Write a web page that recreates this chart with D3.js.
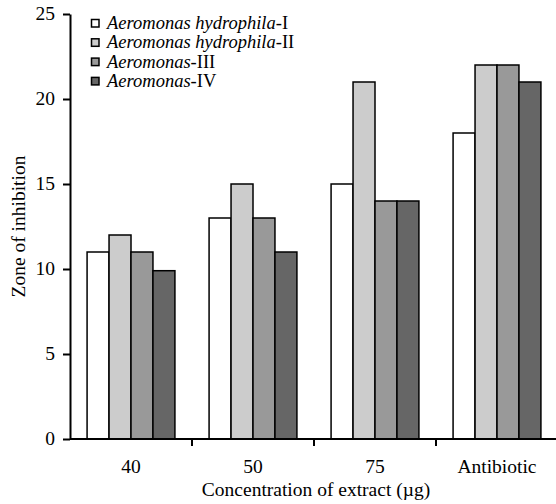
<!DOCTYPE html>
<html lang="en">
<head>
<meta charset="UTF-8">
<title>Zone of inhibition</title>
<style>
  body { margin: 0; background: #fff; }
  text { font-family: "Liberation Serif", "Times New Roman", serif; fill: #000; }
</style>
<script src="https://cdn.jsdelivr.net/npm/d3@7"></script>
</head>
<body>
<script>
// data
var categories = ['40', '50', '75', 'Antibiotic'];
var seriesNames = ['Aeromonas hydrophila-I', 'Aeromonas hydrophila-II', 'Aeromonas-III', 'Aeromonas-IV'];
var seriesItalic = ['Aeromonas hydrophila', 'Aeromonas hydrophila', 'Aeromonas', 'Aeromonas'];
var seriesSuffix = ['-I', '-II', '-III', '-IV'];
var ahI   = [11, 13, 15, 18];
var ahII  = [12, 15, 21, 22];
var aIII  = [11, 13, 14, 22];
var aIV   = [9.9, 11, 14, 21];
var yTicks = [0, 5, 10, 15, 20, 25];
var colors = ['#ffffff', '#cccccc', '#999999', '#666666'];

var values = [ahI, ahII, aIII, aIV];
var width = 556, height = 504;
var margin = {top: 14, right: 0, bottom: 65, left: 70};
var fs = '19.5px';

var svg = d3.select('body').append('svg')
  .attr('width', width)
  .attr('height', height);

var x = d3.scaleBand()
  .domain(categories)
  .range([margin.left, width - margin.right + 2])
  .paddingInner(0.28)
  .paddingOuter(0.14);

var xInner = d3.scaleBand()
  .domain(d3.range(seriesNames.length))
  .range([0, x.bandwidth()]);

var y = d3.scaleLinear()
  .domain([0, 25])
  .range([height - margin.bottom, margin.top]);

// bars
var groups = svg.selectAll('g.grp')
  .data(categories)
  .enter()
  .append('g')
  .attr('class', 'grp')
  .attr('transform', function(d) { return 'translate(' + x(d) + ',0)'; });

groups.selectAll('rect')
  .data(function(d, ci) {
    return values.map(function(s, si) { return {si: si, v: s[ci]}; });
  })
  .enter()
  .append('rect')
  .attr('x', function(d) { return xInner(d.si); })
  .attr('y', function(d) { return y(d.v); })
  .attr('width', xInner.bandwidth())
  .attr('height', function(d) { return y(0) - y(d.v); })
  .attr('fill', function(d) { return colors[d.si]; })
  .attr('stroke', '#000')
  .attr('stroke-width', 1.5);

// y axis
var yAxis = svg.append('g')
  .attr('transform', 'translate(' + margin.left + ',0)')
  .call(d3.axisLeft(y).tickValues(yTicks).tickSize(7).tickPadding(8).tickSizeOuter(0));
yAxis.select('.domain').attr('stroke-width', 2);
yAxis.selectAll('.tick line').attr('stroke-width', 2);
yAxis.selectAll('text')
  .style('font-size', fs)
  .style('font-family', '"Liberation Serif", serif')
  .attr('dy', '0.3em');

// x axis: ticks between categories
var xAxis = svg.append('g')
  .attr('transform', 'translate(0,' + y(0) + ')');
xAxis.append('line')
  .attr('x1', margin.left).attr('x2', width)
  .attr('stroke', '#000').attr('stroke-width', 2);
var step = x.step();
xAxis.selectAll('line.sep')
  .data(categories.slice(1))
  .enter()
  .append('line')
  .attr('class', 'sep')
  .attr('x1', function(d) { return x(d) - step * x.paddingInner() / 2; })
  .attr('x2', function(d) { return x(d) - step * x.paddingInner() / 2; })
  .attr('y1', 0).attr('y2', 7)
  .attr('stroke', '#000').attr('stroke-width', 2);
xAxis.selectAll('text')
  .data(categories)
  .enter()
  .append('text')
  .attr('x', function(d) { return x(d) + x.bandwidth() / 2; })
  .attr('y', 34)
  .attr('text-anchor', 'middle')
  .style('font-size', fs)
  .text(function(d) { return d; });

// axis titles
svg.append('text')
  .attr('x', 316).attr('y', 496)
  .attr('text-anchor', 'middle')
  .style('font-size', fs)
  .text('Concentration of extract (\u00b5g)');

svg.append('text')
  .attr('transform', 'translate(25,' + ((margin.top + y(0)) / 2) + ') rotate(-90)')
  .attr('text-anchor', 'middle')
  .style('font-size', fs)
  .text('Zone of inhibition');

// legend
var legend = svg.append('g').attr('transform', 'translate(91,23)');
var items = legend.selectAll('g')
  .data(seriesNames)
  .enter()
  .append('g')
  .attr('transform', function(d, i) { return 'translate(0,' + (i * 19.3) + ')'; });
items.append('rect')
  .attr('x', 0.5).attr('y', -3.5)
  .attr('width', 7.5).attr('height', 7.5)
  .attr('fill', function(d, i) { return colors[i]; })
  .attr('stroke', '#000').attr('stroke-width', 1.5);
var lt = items.append('text')
  .attr('x', 16).attr('y', 6)
  .style('font-size', '18.5px');
lt.append('tspan').style('font-style', 'italic').text(function(d, i) { return seriesItalic[i]; });
lt.append('tspan').text(function(d, i) { return seriesSuffix[i]; });
</script>
</body>
</html>
